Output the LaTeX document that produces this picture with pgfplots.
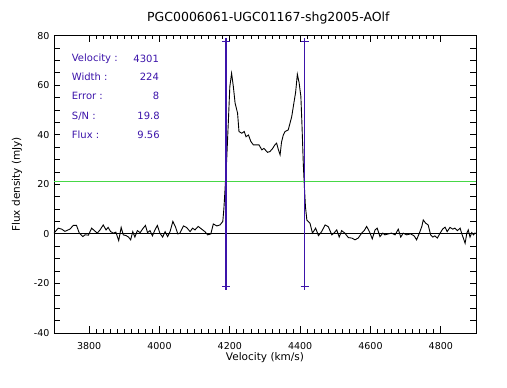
\documentclass[border=0pt]{standalone}
\usepackage{fontspec}
\setmainfont{DejaVu Sans}
\usepackage{pgfplots}
\usepackage{pgfplotstable}
\pgfplotsset{compat=1.18}
\definecolor{idlpurple}{RGB}{60,20,170}
\definecolor{idlgreen}{RGB}{70,215,70}

\pgfplotstableread{
v f
3700 0.3
3712 2.3
3722 1.9
3731 1.0
3745 1.9
3755 3.4
3764 3.4
3772 0.3
3782 -1.1
3788 -0.4
3798 -0.5
3807 2.3
3815 1.3
3823 0.3
3831 1.6
3840 3.6
3848 1.6
3854 2.6
3861 0.9
3869 0.3
3876 0.7
3884 -2.7
3891 2.6
3897 -0.4
3905 -0.7
3912 -1.3
3918 -2.4
3924 0.9
3930 -1.3
3937 1.3
3945 0.5
3952 2.0
3960 3.4
3966 0.5
3973 1.3
3980 -0.8
3987 1.6
3994 3.4
4001 0.3
4009 -1.3
4016 0.9
4023 -1.1
4030 0.9
4038 5.0
4045 3.0
4052 0.0
4058 0.3
4068 3.2
4077 2.6
4087 0.9
4094 2.3
4101 1.6
4110 3.0
4120 1.9
4129 0.9
4137 -0.4
4146 0.0
4153 4.0
4163 3.2
4172 3.6
4180 5.0
4183 10.0
4186 17.0
4191 29.8
4196 46.0
4200 59.4
4205 64.8
4210 59.4
4215 52.7
4222 48.7
4226 41.3
4234 40.6
4241 41.3
4246 39.2
4253 39.9
4260 37.2
4267 35.9
4276 35.9
4283 35.9
4291 33.9
4297 34.5
4307 32.9
4314 33.2
4322 34.5
4328 35.9
4333 36.6
4338 34.0
4343 31.9
4347 37.0
4352 39.9
4357 41.3
4363 41.7
4366 41.9
4371 44.6
4376 47.3
4382 52.7
4387 57.0
4392 64.4
4397 61.0
4402 55.4
4405 44.6
4409 28.0
4412 19.0
4415 11.0
4419 5.6
4428 4.3
4435 0.3
4444 2.3
4452 -0.7
4461 0.9
4471 3.6
4480 2.9
4490 -0.4
4496 0.3
4504 1.6
4511 -1.3
4518 1.3
4527 0.3
4537 -1.5
4547 -1.7
4556 -2.4
4565 -1.7
4575 0.3
4582 1.3
4589 3.0
4597 0.9
4605 -2.0
4613 1.6
4619 2.3
4627 -1.1
4635 0.3
4641 -0.4
4651 0.0
4660 0.3
4670 -0.4
4679 1.9
4686 -1.3
4693 0.3
4703 -0.4
4714 0.0
4724 -0.8
4731 -2.4
4739 0.3
4746 3.0
4750 5.6
4757 4.3
4764 3.6
4771 -0.4
4777 -1.3
4783 -0.8
4790 -1.7
4798 0.3
4805 1.9
4812 2.7
4818 0.9
4826 2.6
4834 1.9
4840 2.3
4847 1.3
4855 2.3
4859 0.3
4864 -1.7
4869 -3.8
4874 0.3
4878 1.6
4883 -1.3
4888 0.5
4893 -0.4
4898 0.5
}\spectrum

\pgfplotstableread{
v f
3700 21.1
4900 21.1
}\threshold

\begin{document}
\begin{tikzpicture}
\path[use as bounding box] (0,0) rectangle (507pt,388pt);
\begin{axis}[
  at={(54pt,55pt)}, anchor=south west,
  scale only axis, width=422pt, height=297.4pt,
  xmin=3700, xmax=4900, ymin=-40, ymax=80,
  xtick={3800,4000,...,4800},
  minor x tick num=9,
  ytick={-40,-35,...,80},
  yticklabels={-40,,,,-20,,,,0,,,,20,,,,40,,,,60,,,,80},
  tick align=inside,
  xtick pos=both, ytick pos=both,
  major tick length=6.5pt, minor tick length=3.5pt,
  every tick/.style={black, line width=0.8pt},
  axis line style={black, line width=0.9pt},
  /pgf/number format/assume math mode=true,
  /pgf/number format/1000 sep={},
  xticklabel style={font=\fontsize{9.5}{11}\selectfont, anchor=center, yshift=-13pt},
  yticklabel style={font=\fontsize{9.5}{11}\selectfont, anchor=east, xshift=-1pt},
  title={PGC0006061-UGC01167-shg2005-AOlf},
  title style={at={(axis description cs:0.508,1.039)}, anchor=center, font=\fontsize{12.5}{14}\selectfont},
  xlabel={Velocity (km/s)},
  ylabel={Flux density (mJy)},
  every axis x label/.style={at={(axis description cs:0.5,-0.084)}, anchor=center, font=\fontsize{10.5}{12}\selectfont},
  every axis y label/.style={at={(axis description cs:-0.088,0.5)}, rotate=90, anchor=center, font=\fontsize{10.5}{12}\selectfont},
  clip=true,
]
\addplot[black, line width=0.9pt] coordinates {(3700,0) (4900,0)};
\addplot[black, line width=0.9pt] table[x=v, y=f] {\spectrum};
\addplot[color=idlgreen, solid, line width=1.1pt, mark=none] table[x=v, y=f] {\threshold};
\addplot[draw=idlpurple, line width=1.2pt, mark=+, mark size=4pt, mark options={solid, draw=idlpurple, line width=1.1pt}] coordinates {(4189,-21.2) (4189,77.5)};
\addplot[draw=idlpurple, line width=1.2pt, mark=+, mark size=4pt, mark options={solid, draw=idlpurple, line width=1.1pt}] coordinates {(4413,-21.2) (4413,77.5)};
\begin{scope}[every node/.style={text=idlpurple, font=\fontsize{10}{12}\selectfont, inner sep=0pt}]
\node[anchor=west] at (rel axis cs:0.042,0.9226) {Velocity :};
\node[anchor=west] at (rel axis cs:0.042,0.861) {Width :};
\node[anchor=west] at (rel axis cs:0.042,0.796) {Error :};
\node[anchor=west] at (rel axis cs:0.042,0.729) {S/N :};
\node[anchor=west] at (rel axis cs:0.042,0.665) {Flux :};
\node[anchor=east] at (rel axis cs:0.249,0.9226) {4301};
\node[anchor=east] at (rel axis cs:0.249,0.861) {224};
\node[anchor=east] at (rel axis cs:0.250,0.796) {8};
\node[anchor=east] at (rel axis cs:0.251,0.729) {19.8};
\node[anchor=east] at (rel axis cs:0.251,0.665) {9.56};
\end{scope}
\end{axis}
\end{tikzpicture}
\end{document}
